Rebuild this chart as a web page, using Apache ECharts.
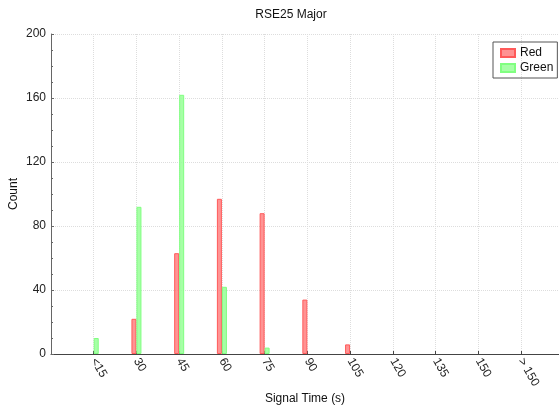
<!DOCTYPE html>
<html><head><meta charset="utf-8">
<script src="https://cdn.jsdelivr.net/npm/echarts@6/dist/echarts.min.js"></script>
<style>html,body{margin:0;padding:0;background:#fff}#c{width:559px;height:407px}</style>
</head><body><div id="c"></div>
<script>
const categories = ['<15','30','45','60','75','90','105','120','135','150','> 150'];
const redValues = [0, 22, 63, 97, 88, 34, 6, 0, 0, 0, 0];
const greenValues = [10, 92, 162, 42, 4, 0, 0, 0, 0, 0, 0];
const yTicks = [0, 40, 80, 120, 160, 200];

const font = 'Liberation Sans';
const toData = arr => arr.map((v, i) => [i, v === 0 ? '-' : v]);
const chart = echarts.init(document.getElementById('c'), null, {renderer: 'canvas'});
chart.setOption({
  animation: false,
  textStyle: {fontFamily: font},
  title: {text: 'RSE25 Major', left: 286, top: 4, textAlign: 'center',
    textStyle: {fontFamily: font, fontSize: 12, fontWeight: 'normal', color: '#111'}},
  legend: {
    orient: 'vertical', left: 493, top: 42, borderColor: '#555', borderWidth: 1,
    padding: [5, 4, 4, 7], itemWidth: 14, itemHeight: 8, itemGap: 3, icon: 'rect',
    textStyle: {fontFamily: font, fontSize: 12, color: '#111'},
    data: ['Red', 'Green']
  },
  grid: {left: 51, right: 0, top: 34, bottom: 53, containLabel: false, outerBoundsMode: 'none'},
  xAxis: {
    type: 'value', min: -1, max: 10.89, interval: 1,
    name: 'Signal Time (s)', nameLocation: 'middle', nameGap: 39, nameMoveOverlap: false,
    nameTextStyle: {fontFamily: font, fontSize: 12, color: '#111'},
    axisLine: {onZero: false, lineStyle: {color: '#444'}},
    axisTick: {inside: true, length: 3, lineStyle: {color: '#444'}},
    axisLabel: {rotate: -60, margin: 5, fontSize: 12, color: '#222', fontFamily: font,
      showMinLabel: false, showMaxLabel: false, hideOverlap: false,
      formatter: v => (Number.isInteger(v) && v >= 0 && v < categories.length) ? categories[v] : ''},
    splitLine: {show: true, lineStyle: {color: '#ddd', type: 'dotted'}}
  },
  yAxis: {
    type: 'value', min: yTicks[0], max: yTicks[yTicks.length - 1], interval: 40,
    name: 'Count', nameLocation: 'middle', nameGap: 31, nameMoveOverlap: false,
    nameTextStyle: {fontFamily: font, fontSize: 12, color: '#111'},
    axisLine: {show: true, onZero: false, lineStyle: {color: '#666'}},
    axisTick: {show: true, inside: true, length: 3, lineStyle: {color: '#666'}},
    minorTick: {show: true, splitNumber: 4, length: 2, lineStyle: {color: '#666'}},
    axisLabel: {margin: 5, fontSize: 12, color: '#222', fontFamily: font},
    splitLine: {show: true, lineStyle: {color: '#ddd', type: 'dotted'}}
  },
  series: [
    {name: 'Red', type: 'bar', barWidth: 5, barGap: '0%',
      data: toData(redValues),
      itemStyle: {color: 'rgba(255,120,120,0.8)', borderColor: '#ff5a5a', borderWidth: 1}},
    {name: 'Green', type: 'bar', barWidth: 5, barGap: '0%',
      data: toData(greenValues),
      itemStyle: {color: 'rgba(150,255,150,0.85)', borderColor: '#80ff80', borderWidth: 1}}
  ]
});
</script></body></html>
